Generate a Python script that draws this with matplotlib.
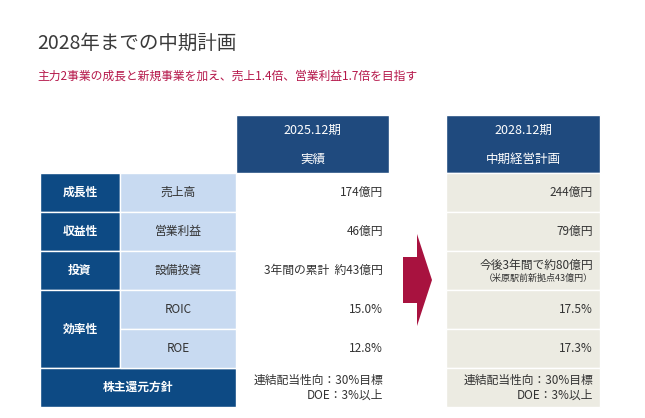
import matplotlib
matplotlib.use('Agg')
import matplotlib.pyplot as plt
from matplotlib.patches import Rectangle, Polygon

plt.rcParams['font.family'] = ['Noto Sans CJK JP', 'DejaVu Sans']

title = '2028年までの中期計画'
subtitle = '主力2事業の成長と新規事業を加え、売上1.4倍、営業利益1.7倍を目指す'

headers = [('2025.12期', '実績'), ('2028.12期', '中期経営計画')]
categories = ['成長性', '収益性', '投資', '効率性', '株主還元方針']
category_rows = [1, 1, 1, 2, 1]
items = ['売上高', '営業利益', '設備投資', 'ROIC', 'ROE']
actual = ['174億円', '46億円', '3年間の累計  約43億円', '15.0%', '12.8%',
          '連結配当性向：30%目標\nDOE：3%以上']
plan = ['244億円', '79億円', '今後3年間で約80億円', '17.5%', '17.3%',
        '連結配当性向：30%目標\nDOE：3%以上']
plan_note = '（米原駅前新拠点43億円）'

NAVY = '#0d4a84'
HEAD = '#1f4a7e'
LIGHT = '#c8daf1'
BEIGE = '#ecebe2'
CRIMSON = '#a8123f'
TEXT = '#333333'

fig = plt.figure(figsize=(6.45, 4.18), dpi=100)
ax = fig.add_axes([0, 0, 1, 1])
ax.set_xlim(0, 645)
ax.set_ylim(418, 0)
ax.axis('off')

ax.text(37, 43, title, fontsize=14, color='#3a3a3a', va='center', ha='left')
ax.text(37, 76, subtitle, fontsize=8.5, color='#b5174a', va='center', ha='left')

# layout
x_cat, x_item, x_act, x_act_end = 40, 120, 236, 389
x_plan, x_plan_end = 446, 600
y_head = 115
y0 = 173
rh = 39

def cell(x, y, w, h, color):
    ax.add_patch(Rectangle((x, y), w, h, facecolor=color, edgecolor='white', lw=1))

# headers
for (line1, line2), (xa, xb) in zip(headers, [(x_act, x_act_end), (x_plan, x_plan_end)]):
    cell(xa, y_head, xb - xa, y0 - y_head, HEAD)
    ax.text((xa + xb) / 2, 130, line1, fontsize=9, color='white', ha='center', va='center')
    ax.text((xa + xb) / 2, 159, line2, fontsize=9, color='white', ha='center', va='center')

# category column
r = 0
for i, (cat, n) in enumerate(zip(categories, category_rows)):
    y = y0 + r * rh
    x_end = x_act if i == len(categories) - 1 else x_item
    cell(x_cat, y, x_end - x_cat, rh * n, NAVY)
    ax.text((x_cat + x_end) / 2, y + rh * n / 2, cat, fontsize=8.5, color='white',
            ha='center', va='center', fontweight='bold')
    r += n

# item column
for i, it in enumerate(items):
    y = y0 + i * rh
    cell(x_item, y, x_act - x_item, rh, LIGHT)
    ax.text((x_item + x_act) / 2, y + rh / 2, it, fontsize=8.5, color=TEXT,
            ha='center', va='center')

# value columns
for i, (a, p) in enumerate(zip(actual, plan)):
    y = y0 + i * rh
    cell(x_plan, y, x_plan_end - x_plan, rh, BEIGE)
    ax.text(x_act_end - 6, y + rh / 2, a, fontsize=8.5, color=TEXT,
            ha='right', va='center', linespacing=1.2)
    if i == 2:
        ax.text(x_plan_end - 7, y + 14, p, fontsize=8.5, color=TEXT, ha='right', va='center')
        ax.text(x_plan_end - 7, y + 27, plan_note, fontsize=6.5, color=TEXT, ha='right', va='center')
    else:
        ax.text(x_plan_end - 7, y + rh / 2, p, fontsize=8.5, color=TEXT,
                ha='right', va='center', linespacing=1.2)

# arrow
ax.add_patch(Polygon([(403, 257), (417, 257), (417, 234), (432, 280),
                      (417, 326), (417, 303), (403, 303)],
                     closed=True, facecolor=CRIMSON, edgecolor='none'))

fig.savefig('out.png', dpi=100)
